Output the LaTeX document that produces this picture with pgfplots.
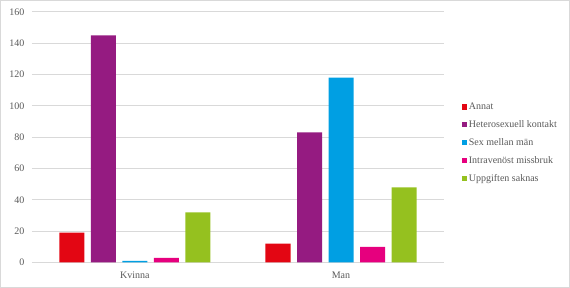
\documentclass[border=0pt]{standalone}
\usepackage{pgfplots}
\pgfplotsset{compat=1.18}
\usepackage{fontspec}
\setmainfont{Liberation Serif}
\definecolor{cRed}{RGB}{227,6,19}
\definecolor{cPur}{RGB}{149,27,129}
\definecolor{cBlu}{RGB}{0,159,227}
\definecolor{cPnk}{RGB}{230,0,126}
\definecolor{cGrn}{RGB}{149,193,31}
\definecolor{txt}{RGB}{89,89,89}
\definecolor{grd}{RGB}{217,217,217}
\begin{document}
\begin{tikzpicture}[x=1pt,y=1pt]
\draw[grd,line width=0.8pt] (0.5,0.5) rectangle (569.5,287.5);
\begin{axis}[
  at={(32pt,25.5pt)}, anchor=south west,
  scale only axis, width=412pt, height=250.5pt,
  xmin=-0.5, xmax=1.5, ymin=0, ymax=160,
  ybar=6.5pt, bar width=25pt,
  xtick=data, xticklabels={Kvinna,Man},
  ytick={0,20,...,160},
  ymajorgrids, grid style={grd,line width=0.8pt},
  axis x line*=bottom, axis y line*=left,
  x axis line style={grd,line width=0.8pt},
  y axis line style={draw=none},
  tick style={draw=none},
  ticklabel style={font=\fontsize{10}{12}\selectfont, text=txt},
  /pgf/number format/assume math mode=true,
  yticklabel style={xshift=-4pt},
  xticklabel style={yshift=-2pt},
  legend style={at={(1.035,0.477)}, anchor=west, draw=none, fill=none,
    font=\fontsize{10}{12}\selectfont, text=txt, row sep=5.5pt,
    legend cell align=left},
  legend image code/.code={\fill[#1] (0pt,-2.6pt) rectangle (5.2pt,2.6pt);},
]
\addplot[fill=cRed,draw=none] coordinates {(0,19) (1,12)};
\addplot[fill=cPur,draw=none] coordinates {(0,145) (1,83)};
\addplot[fill=cBlu,draw=none] coordinates {(0,1) (1,118)};
\addplot[fill=cPnk,draw=none] coordinates {(0,3) (1,10)};
\addplot[fill=cGrn,draw=none] coordinates {(0,32) (1,48)};
\legend{Annat,Heterosexuell kontakt,Sex mellan män,Intravenöst missbruk,Uppgiften saknas}
\end{axis}
\end{tikzpicture}
\end{document}
